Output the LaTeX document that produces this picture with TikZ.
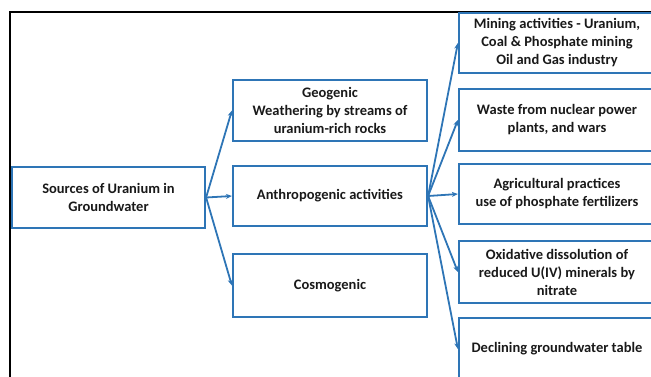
\documentclass[tikz,border=0pt]{standalone}
\usepackage{fontspec}
\setmainfont{Carlito}
\usepackage{tikz}
\usetikzlibrary{arrows.meta}
\definecolor{boxblue}{RGB}{46,117,182}

\begin{document}
\begin{tikzpicture}[x=1pt,y=-1pt]
\tikzstyle{box}=[draw=boxblue,line width=2.2pt,shape=rectangle,align=center,
  inner sep=0pt,font=\fontsize{14.5}{18}\selectfont\bfseries,text=black!90];
\tikzstyle{link}=[draw=boxblue,line width=1.8pt,-{Stealth[length=6pt,width=5pt]}];
\useasboundingbox (0,0) rectangle (651,376);
\clip (0,0) rectangle (651,376);
\draw [line width=1.3pt] (10,12) rectangle (700,420);
\node [box,minimum width=193,minimum height=61] (src) at (108.5,197.5) {Sources of Uranium in\\Groundwater};
\node [box,minimum width=194,minimum height=61] (geo) at (330,110.5) {Geogenic\\Weathering by streams of\\uranium-rich rocks};
\node [box,minimum width=194,minimum height=60] (anth) at (330,196) {Anthropogenic activities};
\node [box,minimum width=194,minimum height=63] (cosm) at (330,285.5) {Cosmogenic};
\node [box,minimum width=196,minimum height=60] (mine) at (557,43) {Mining activities - Uranium,\\Coal \& Phosphate mining\\Oil and Gas industry};
\node [box,minimum width=196,minimum height=62] (waste) at (557,120) {Waste from nuclear power\\plants, and wars};
\node [box,minimum width=196,minimum height=60] (agri) at (557,194) {Agricultural practices\\use of phosphate fertilizers};
\node [box,minimum width=196,minimum height=62] (oxid) at (557,272) {Oxidative dissolution of\\reduced U(IV) minerals by\\nitrate};
\node [box,minimum width=196,minimum height=62] (decl) at (557,349) {Declining groundwater table};
\draw [link] (src.east) -- (geo.west);
\draw [link] (src.east) -- (anth.west);
\draw [link] (src.east) -- (cosm.west);
\draw [link] (anth.east) -- (mine.west);
\draw [link] (anth.east) -- (waste.west);
\draw [link] (anth.east) -- (agri.west);
\draw [link] (anth.east) -- (oxid.west);
\draw [link] (anth.east) -- (decl.west);
\end{tikzpicture}
\end{document}
